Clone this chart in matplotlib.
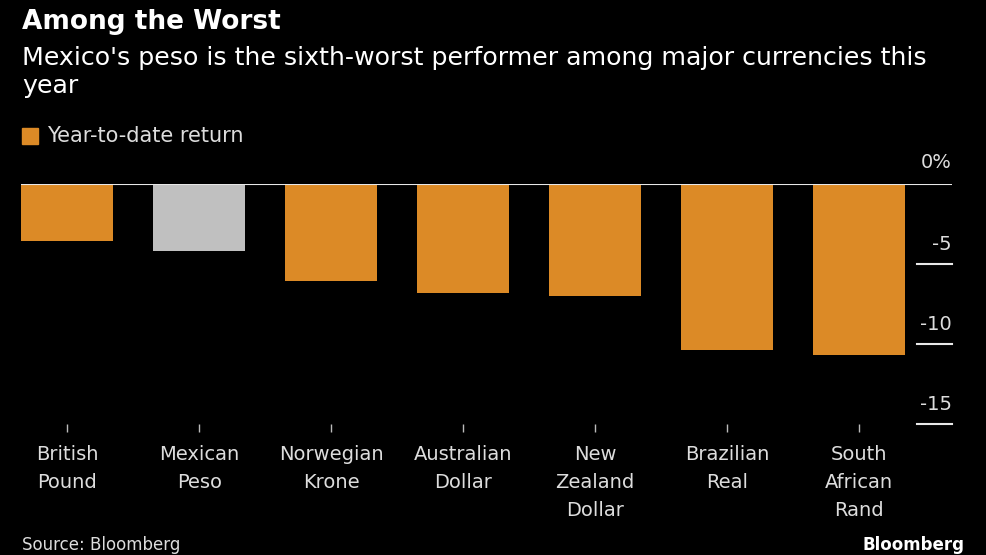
import matplotlib
matplotlib.use("Agg")
import matplotlib.pyplot as plt
import matplotlib.transforms as mtransforms

# ── Data ──────────────────────────────────────────────────────────────────────
categories = ["British\nPound", "Mexican\nPeso", "Norwegian\nKrone", "Australian\nDollar",
              "New\nZealand\nDollar", "Brazilian\nReal", "South\nAfrican\nRand"]
ytd_return = [-3.55, -4.2, -6.05, -6.8, -7.0, -10.4, -10.7]
highlight = "Mexican\nPeso"
yticks = [0, -5, -10, -15]
ytick_labels = ["0%", "-5", "-10", "-15"]

# ── Style ─────────────────────────────────────────────────────────────────────
BG = "#000000"
ORANGE = "#DC8A26"
GREY = "#C0C0C0"
TXT = "#DDDDDD"
W, H = 987, 555
plt.rcParams["font.family"] = ["DejaVu Sans"]

fig = plt.figure(figsize=(W / 100, H / 100), dpi=100, facecolor=BG)
# axes: x from px 21 to 952, y from px 184 (0) to 424 (-15)
ax = fig.add_axes([21 / W, 1 - 424 / H, (952 - 21) / W, (424 - 184) / H])
ax.set_facecolor(BG)

x = list(range(len(categories)))
colors = [GREY if c == highlight else ORANGE for c in categories]
ax.bar(x, ytd_return, width=0.7, color=colors, zorder=2)
ax.set_xlim(-0.35, 6.705)
ax.set_ylim(-15, 0)

for s in ax.spines.values():
    s.set_visible(False)

# zero line
ax.axhline(0, color="#E8E8E8", lw=1.5, zorder=3)

# y ticks: short lines at right + labels above
trans = mtransforms.blended_transform_factory(ax.transAxes, ax.transData)
for v, lab in zip(yticks, ytick_labels):
    if v != 0:
        ax.plot([0.9624, 1.0], [v, v], transform=trans, color="#E8E8E8", lw=1.5,
                clip_on=False, zorder=3)
    off = 0.75 if v == 0 else 0.6
    ax.text(1.0, v + off, lab, transform=trans, ha="right", va="bottom",
            color=TXT, fontsize=14, clip_on=False)
ax.set_yticks([])

ax.set_xticks(x)
ax.set_xticklabels(categories, color=TXT, fontsize=14, linespacing=1.6, va="top")
ax.tick_params(axis="x", length=6, width=1, color="#BBBBBB", pad=9)

# ── Texts ────────────────────────────────────────────────────────────────────
fig.text(22 / W, 1 - 22 / H, "Among the Worst", color="white", fontsize=19,
         fontweight="bold", ha="left", va="center")
fig.text(22 / W, 1 - 72 / H,
         "Mexico's peso is the sixth-worst performer among major currencies this\nyear",
         color="white", fontsize=18.2, ha="left", va="center", linespacing=1.2)
fig.patches.append(plt.Rectangle((22 / W, 1 - 144 / H), 16 / W, 16 / H,
                                 transform=fig.transFigure, color=ORANGE))
fig.text(47 / W, 1 - 136 / H, "Year-to-date return", color=TXT, fontsize=15,
         ha="left", va="center")
fig.text(22 / W, 1 / H, "Source: Bloomberg", color=TXT, fontsize=12,
         ha="left", va="bottom")
fig.text(965 / W, 1 / H, "Bloomberg", color="white", fontsize=12,
         fontweight="bold", ha="right", va="bottom")

fig.savefig("out.png", dpi=100, facecolor=BG)
